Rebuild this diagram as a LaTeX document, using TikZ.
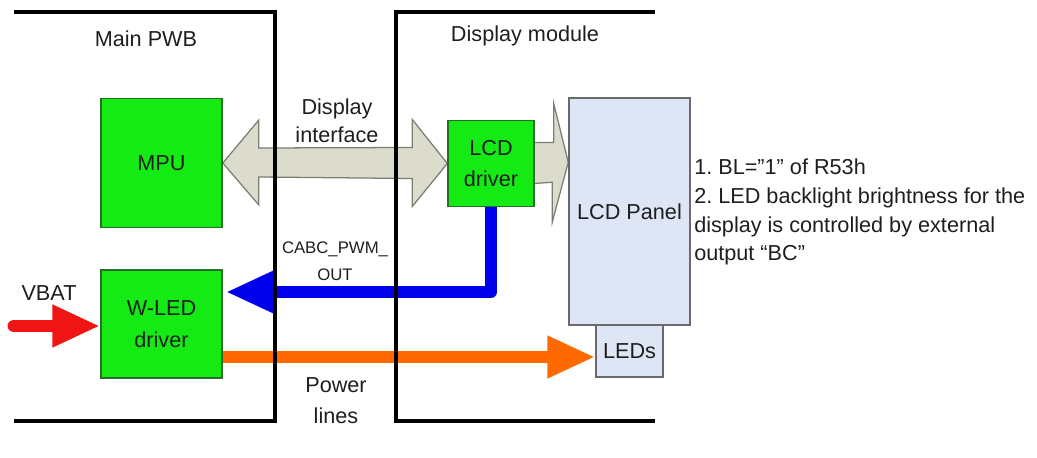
\documentclass[tikz,border=0pt]{standalone}
\usepackage{fontspec}
\setmainfont{Liberation Sans}
\usetikzlibrary{arrows.meta,calc}
\definecolor{chipfill}{RGB}{20,235,20}
\definecolor{chipedge}{RGB}{40,110,40}
\definecolor{panelfill}{RGB}{222,230,245}
\definecolor{paneledge}{RGB}{105,105,110}
\definecolor{busfill}{RGB}{220,220,205}
\definecolor{busedge}{RGB}{125,125,115}
\definecolor{pwmblue}{RGB}{0,0,235}
\definecolor{pwrorange}{RGB}{255,105,0}
\definecolor{vbatred}{RGB}{240,20,20}
\definecolor{txt}{RGB}{30,30,30}
\pgfdeclarelayer{bg}
\pgfsetlayers{bg,main}
\frenchspacing
\tikzset{
  board/.style={line width=3.5pt, black},
  chip/.style={draw=chipedge, fill=chipfill, line width=1pt, align=center, inner sep=0pt,
    text=txt, font=\fontsize{15.4}{22.5}\selectfont},
  panelbox/.style={draw=paneledge, fill=panelfill, line width=0.9pt, inner sep=0pt,
    text=txt, font=\fontsize{15.4}{20}\selectfont},
  busarrow/.style={draw=busedge, fill=busfill, line width=0.9pt},
  lbl/.style={anchor=base, align=center, text=txt, inner sep=0pt,
    font=\fontsize{15.4}{20.4}\selectfont},
  wire/.style={line width=8.3pt, line join=round, -{Triangle[length=34pt,width=28pt]}}
}
\begin{document}
\begin{tikzpicture}[x=0.025cm, y=-0.025cm]
  \useasboundingbox (0,0) rectangle (1037,458);

  % Main PWB blocks
  \node[chip, minimum width=3.03cm, minimum height=3.23cm] (mpu) at (161.5,163) {MPU};
  \node[chip, minimum width=3.03cm, minimum height=2.7cm] (wled) at (161.5,324) {W-LED\\driver};

  % Display module blocks
  \node[chip, minimum width=2.15cm, minimum height=2.15cm] (lcddrv) at (491,163.5) {LCD\\driver};
  \node[panelbox, minimum width=3.03cm, minimum height=5.68cm] (panel) at (629.5,211.5) {LCD Panel};
  \node[panelbox, minimum width=1.68cm, minimum height=1.3cm] (leds) at (629.5,351) {LEDs};

  % Connections
  \begin{pgfonlayer}{bg}
    \draw[busarrow] (mpu.east) -- ++(36,-43) -- ++(0,28) -- ($(lcddrv.west)+(-35,-16)$)
      -- ++(0,-28) -- (lcddrv.west) -- ++(-35,43) -- ++(0,-28)
      -- ($(mpu.east)+(36,14)$) -- ++(0,28) -- cycle;
    \draw[busarrow] ($(lcddrv.east)+(0,-21)$) -- ++(19,0) -- ++(0,-39)
      -- ($(panel.north west)+(0,65)$) -- ++(-16,60) -- ++(0,-40) -- ($(lcddrv.east)+(0,20)$);
    \draw[wire, pwmblue] (lcddrv.south) |- ($(wled.east)+(3,-32)$);
    \coordinate (pwrstart) at ($(wled.east)+(0,33)$);
    \draw[wire, pwrorange] (pwrstart) -- (pwrstart -| leds.west);
    \coordinate (vbatin) at (14,326);
    \draw[wire, vbatred, line width=9.2pt, line cap=round] (vbatin) -- (vbatin -| wled.west);
  \end{pgfonlayer}

  % Board outlines
  \draw[board] (14,12) -- (275,12) -- (275,421) -- (14,421);
  \draw[board] (655,12) -- (396,12) -- (396,421) -- (655,421);

  % Labels (base = last line)
  \node[lbl] (mainpwb) at (146,47) {Main PWB};
  \node[lbl] (dispmod) at (525,42) {Display module};
  \node[lbl, font=\fontsize{15.4}{20}\selectfont] (ifname) at (337,143) {Display\\interface};
  \node[lbl, font=\fontsize{11.9}{19}\selectfont] (pwmname) at (335,280) {CABC\_PWM\_\\OUT};
  \node[lbl, font=\fontsize{15.4}{22}\selectfont] (pwrname) at (336,423) {Power\\lines};
  \node[lbl] (vbat) at (49,300) {VBAT};
  \node[lbl, anchor=base west, align=left] (notes) at (694,261)
    {1. BL="1" of R53h\\2. LED backlight brightness for the\\display is controlled by external\\output “BC”};
\end{tikzpicture}
\end{document}
